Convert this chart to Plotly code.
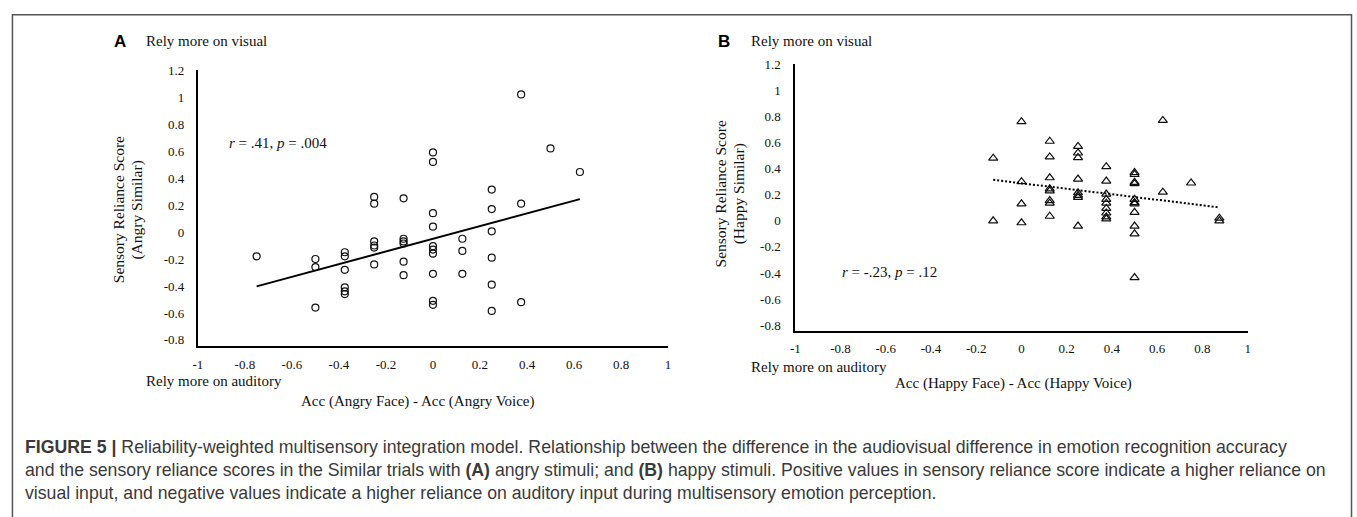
import numpy as np
import plotly.graph_objects as go

W, H = 1357, 517

# ---------------- data ----------------
# Panel A: Acc(Angry Face) - Acc(Angry Voice) vs Sensory Reliance Score (Angry Similar)
a_x = [-0.75,
       -0.5, -0.5, -0.5,
       -0.375, -0.375, -0.375, -0.375, -0.375, -0.375,
       -0.25, -0.25, -0.25, -0.25, -0.25, -0.25,
       -0.125, -0.125, -0.125, -0.125, -0.125, -0.125,
       0, 0, 0, 0, 0, 0, 0, 0, 0, 0,
       0.125, 0.125, 0.125,
       0.25, 0.25, 0.25, 0.25, 0.25, 0.25,
       0.375, 0.375, 0.375,
       0.5,
       0.625]
a_y = [-0.18,
       -0.20, -0.26, -0.56,
       -0.15, -0.18, -0.28, -0.41, -0.44, -0.46,
       0.26, 0.21, -0.07, -0.10, -0.115, -0.24,
       0.25, -0.05, -0.07, -0.085, -0.22, -0.32,
       0.59, 0.52, 0.14, 0.04, -0.105, -0.13, -0.16, -0.31, -0.51, -0.54,
       -0.05, -0.14, -0.31,
       0.315, 0.17, 0.005, -0.19, -0.39, -0.585,
       1.02, 0.21, -0.52,
       0.62,
       0.445]

# Panel B: Acc(Happy Face) - Acc(Happy Voice) vs Sensory Reliance Score (Happy Similar)
b_x = [-0.125, -0.125,
       0, 0, 0, 0,
       0.125, 0.125, 0.125, 0.125, 0.125, 0.125, 0.125, 0.125,
       0.25, 0.25, 0.25, 0.25, 0.25, 0.25, 0.25, 0.25,
       0.375, 0.375, 0.375, 0.375, 0.375, 0.375, 0.375, 0.375, 0.375,
       0.5, 0.5, 0.5, 0.5, 0.5, 0.5, 0.5, 0.5, 0.5, 0.5, 0.5,
       0.625, 0.625,
       0.75,
       0.875, 0.875]
b_y = [0.48, 0.0,
       0.76, 0.30, 0.13, -0.015,
       0.61, 0.49, 0.33, 0.245, 0.23, 0.155, 0.135, 0.035,
       0.57, 0.52, 0.485, 0.32, 0.215, 0.195, 0.18, -0.04,
       0.415, 0.305, 0.205, 0.165, 0.135, 0.095, 0.06, 0.03, 0.015,
       0.37, 0.355, 0.295, 0.285, 0.165, 0.14, 0.13, 0.065, -0.04, -0.10, -0.435,
       0.77, 0.22,
       0.29,
       0.02, 0.0]

x_tick_vals = [-1, -0.8, -0.6, -0.4, -0.2, 0, 0.2, 0.4, 0.6, 0.8, 1]
x_tick_text = ["-1", "-0.8", "-0.6", "-0.4", "-0.2", "0", "0.2", "0.4", "0.6", "0.8", "1"]
y_tick_vals = [-0.8, -0.6, -0.4, -0.2, 0, 0.2, 0.4, 0.6, 0.8, 1, 1.2]
y_tick_text = ["-0.8", "-0.6", "-0.4", "-0.2", "0", "0.2", "0.4", "0.6", "0.8", "1", "1.2"]

stat_a = "<i>r</i> = .41, <i>p</i> = .004"
stat_b = "<i>r</i> = -.23, <i>p</i> = .12"
caption_lines = [
    "<b>FIGURE 5 |</b> Reliability-weighted multisensory integration model. Relationship between the difference in the audiovisual difference in emotion recognition accuracy",
    "and the sensory reliance scores in the Similar trials with <b>(A)</b> angry stimuli; and <b>(B)</b> happy stimuli. Positive values in sensory reliance score indicate a higher reliance on",
    "visual input, and negative values indicate a higher reliance on auditory input during multisensory emotion perception.",
]

# ---------------- helpers ----------------
def px(x):
    return x / W

def py(y):
    return 1 - y / H

SERIF = "Liberation Serif"
SANS = "Liberation Sans"

# regression lines computed from the data
sa, ia = np.polyfit(a_x, a_y, 1)
fa_x = np.array([min(a_x), max(a_x)])
fa_y = sa * fa_x + ia
sb, ib = np.polyfit(b_x, b_y, 1)
fb_x = np.array([min(b_x), max(b_x)])
fb_y = sb * fb_x + ib

fig = go.Figure()
fig.add_trace(go.Scatter(x=a_x, y=a_y, mode="markers", xaxis="x", yaxis="y",
                         marker=dict(symbol="circle-open", size=7, color="#111",
                                     line=dict(width=1.2, color="#111")),
                         showlegend=False, hoverinfo="skip"))
fig.add_trace(go.Scatter(x=fa_x, y=fa_y, mode="lines", xaxis="x", yaxis="y",
                         line=dict(color="#000", width=2), showlegend=False, hoverinfo="skip"))
fig.add_trace(go.Scatter(x=b_x, y=b_y, mode="markers", xaxis="x2", yaxis="y2",
                         marker=dict(symbol="triangle-up-open", size=8, color="#111",
                                     line=dict(width=1.2, color="#111")),
                         showlegend=False, hoverinfo="skip"))
fig.add_trace(go.Scatter(x=fb_x, y=fb_y, mode="lines", xaxis="x2", yaxis="y2",
                         line=dict(color="#000", width=2, dash="2px,2px"), showlegend=False,
                         hoverinfo="skip"))

axis_common = dict(showgrid=False, zeroline=False, showline=True, linecolor="#000",
                   linewidth=2, ticks="", tickfont=dict(family=SERIF, size=13, color="#111"))

fig.update_layout(
    width=W, height=H,
    margin=dict(l=0, r=0, t=0, b=0),
    paper_bgcolor="white", plot_bgcolor="white",
    xaxis=dict(domain=[px(194), px(667)], range=[-1, 1], tickvals=x_tick_vals,
               ticktext=x_tick_text, anchor="y", ticklabelstandoff=5, **axis_common),
    yaxis=dict(domain=[py(345), py(64.3)], range=[-0.845, 1.2], tickvals=y_tick_vals,
               ticktext=y_tick_text, anchor="x", ticklabelstandoff=9, **axis_common),
    xaxis2=dict(domain=[px(795), px(1250)], range=[-1, 1], tickvals=x_tick_vals,
                ticktext=x_tick_text, anchor="y2", ticklabelstandoff=5, **axis_common),
    yaxis2=dict(domain=[py(329.5), py(58.3)], range=[-0.843, 1.2], tickvals=y_tick_vals,
                ticktext=y_tick_text, anchor="x2", ticklabelstandoff=10, **axis_common),
)

ann = []

def text(t, x, y, size=15, family=SERIF, xanchor="left", angle=0, color="#111"):
    ann.append(dict(text=t, x=px(x), y=py(y), xref="paper", yref="paper",
                    xanchor=xanchor, yanchor="middle", showarrow=False,
                    textangle=angle, font=dict(family=family, size=size, color=color)))

# panel letters and labels
text("<b>A</b>", 116, 35, size=17, family=SANS, xanchor="center", color="#000")
text("Rely more on visual", 140, 35)
text("<b>B</b>", 723.5, 35, size=17, family=SANS, xanchor="center", color="#000")
text("Rely more on visual", 748, 35)

text("Sensory Reliance Score", 115, 206.5, size=15.5, xanchor="center", angle=-90)
text("(Angry Similar)", 132.5, 206.5, size=15.5, xanchor="center", angle=-90)
text("Sensory Reliance Score", 720, 190, size=15.5, xanchor="center", angle=-90)
text("(Happy Similar)", 738, 190, size=15.5, xanchor="center", angle=-90)

text(stat_a, 223, 138)
text(stat_b, 840, 270)

text("Rely more on auditory", 140, 381)
text("Acc (Angry Face) - Acc (Angry Voice)", 415, 401, xanchor="center")
text("Rely more on auditory", 748, 366)
text("Acc (Happy Face) - Acc (Happy Voice)", 1014, 383, xanchor="center")

for i, line in enumerate(caption_lines):
    text(line, 18, 448 + 23.5 * i, size=17.7, family=SANS, color="#3a3a3a")

fig.update_layout(annotations=ann)

fig.add_shape(type="rect", xref="paper", yref="paper",
              x0=px(7.5), x1=px(1354.5), y0=py(540), y1=py(8),
              line=dict(color="#555", width=1.5), fillcolor="rgba(0,0,0,0)", layer="below")

fig.write_html("out.html")
